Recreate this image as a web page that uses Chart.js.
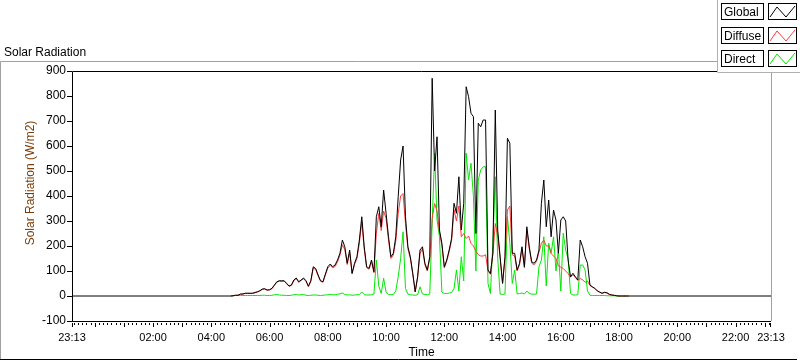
<!DOCTYPE html>
<html>
<head>
<meta charset="utf-8">
<style>
  html, body { margin: 0; padding: 0; background: #fff; }
</style>
</head>
<body>
<canvas id="myChart" width="800" height="361"></canvas>
<script src="https://cdn.jsdelivr.net/npm/chart.js@4.4.1/dist/chart.umd.min.js"></script>
<script>
// axis runs one full day starting at 23:13, samples every 5 minutes
var axisStart = '23:13';
var sampleStart = '04:40';
var sampleStepMin = 5;
var tickLabels = ['23:13', '02:00', '04:00', '06:00', '08:00', '10:00', '12:00',
                  '14:00', '16:00', '18:00', '20:00', '22:00', '23:13'];
var seriesNames = ['Global', 'Diffuse', 'Direct'];
var chartTitle = 'Solar Radiation';
var yTitle = 'Solar Radiation (W/m2)';
var xTitle = 'Time';

// W/m2
var globalRad = [
    0, 1, 3, 3, 8, 8, 11, 11, 11, 11,
    14, 17, 21, 28, 29, 24, 25, 31, 44, 57,
    61, 61, 61, 51, 40, 44, 64, 72, 57, 64,
    72, 61, 39, 61, 117, 110, 84, 61, 57, 88,
    117, 128, 117, 124, 144, 171, 224, 197, 131, 184,
    91, 131, 157, 224, 317, 197, 117, 111, 144, 97,
    317, 357, 277, 424, 331, 237, 157, 171, 237, 397,
    544, 600, 317, 197, 157, 91, 17, 77, 184, 197,
    131, 104, 157, 871, 500, 637, 264, 211, 117, 144,
    184, 231, 371, 331, 477, 264, 371, 837, 797, 731,
    717, 250, 691, 677, 704, 704, 104, 90, 171, 744,
    264, 157, 51, 157, 631, 611, 171, 171, 104, 131,
    197, 117, 277, 197, 137, 131, 144, 184, 371, 464,
    277, 384, 237, 344, 304, 171, 304, 317, 300, 144,
    77, 91, 77, 64, 224, 197, 157, 131, 44, 37,
    31, 21, 16, 11, 15, 13, 7, 4, 3, 1,
    0, 0, 0, 0, 0
];
var diffuseRad = [
    0, 1, 3, 3, 7, 8, 10, 11, 10, 11,
    13, 16, 20, 26, 28, 23, 25, 29, 42, 55,
    60, 58, 60, 49, 39, 42, 61, 70, 55, 62,
    69, 59, 38, 58, 112, 106, 81, 59, 55, 84,
    112, 122, 113, 118, 137, 163, 205, 186, 126, 174,
    88, 125, 150, 212, 298, 187, 113, 107, 138, 93,
    250, 330, 262, 340, 310, 225, 150, 164, 220, 330,
    400, 410, 290, 189, 150, 88, 16, 73, 170, 189,
    125, 100, 150, 310, 370, 340, 255, 203, 112, 139,
    177, 222, 345, 300, 360, 237, 250, 230, 240, 210,
    200, 180, 165, 160, 160, 165, 100, 87, 165, 290,
    240, 150, 49, 150, 344, 360, 165, 160, 100, 125,
    189, 112, 265, 189, 131, 125, 138, 175, 211, 224,
    200, 200, 170, 160, 150, 120, 115, 110, 100, 90,
    75, 85, 74, 62, 70, 65, 55, 60, 42, 35,
    30, 20, 15, 10, 14, 12, 6, 4, 2, 1,
    0, 0, 0, 0, 0
];
var directRad = [
    0, 1, 2, 2, 2, 2, 2, 2, 2, 2,
    2, 2, 2, 3, 3, 2, 2, 3, 5, 6,
    4, 3, 3, 2, 2, 3, 5, 6, 4, 5,
    6, 3, 2, 3, 4, 4, 3, 2, 3, 4,
    5, 6, 5, 5, 7, 9, 12, 6, 4, 5,
    3, 4, 5, 6, 16, 6, 4, 4, 5, 8,
    144, 40, 10, 71, 15, 6, 5, 6, 20, 77,
    150, 257, 30, 8, 5, 4, 3, 5, 37, 8,
    6, 5, 8, 291, 571, 304, 237, 15, 10, 10,
    12, 14, 30, 104, 20, 157, 60, 571, 464, 531,
    397, 100, 464, 504, 517, 517, 50, 10, 211, 477,
    150, 8, 6, 8, 317, 211, 50, 104, 8, 10,
    12, 8, 20, 10, 8, 7, 8, 117, 144, 237,
    40, 211, 171, 237, 100, 184, 20, 251, 184, 150,
    10, 4, 4, 5, 124, 124, 104, 20, 3, 2,
    2, 2, 2, 2, 2, 1, 1, 1, 1, 0,
    0, 0, 0, 0, 0
];
var nightLevel = 0;

function clockMin(s) {
    var p = s.split(':');
    return parseInt(p[0], 10) * 60 + parseInt(p[1], 10);
}
var DAY = 1440;
var startMin = clockMin(axisStart);
function toAxis(s) {
    return (clockMin(s) - startMin + DAY) % DAY;
}

var t0 = toAxis(sampleStart);
function points(values) {
    return values.map(function (v, i) { return { x: t0 + i * sampleStepMin, y: v }; });
}
var globalPts = [{ x: 0, y: nightLevel }].concat(points(globalRad), [{ x: DAY, y: nightLevel }]);

var tickValues = tickLabels.map(function (s, i) {
    if (i === 0) return 0;
    if (i === tickLabels.length - 1) return DAY;
    return toAxis(s);
});

Chart.defaults.font.family = '"Liberation Sans", Arial, sans-serif';
Chart.defaults.font.size = 12;
Chart.defaults.color = '#000';

var legendColors = ['#000000', '#ff3a3a', '#00e800'];

var framePlugin = {
    id: 'frame',
    afterDraw: function (chart) {
        var ctx = chart.ctx, a = chart.chartArea;
        var xs = chart.scales.x, ys = chart.scales.y;
        ctx.save();
        ctx.lineWidth = 1;

        // outer frame
        ctx.strokeStyle = '#a0a0a0';
        ctx.beginPath();
        ctx.moveTo(0.5, 359); ctx.lineTo(0.5, 61.5); ctx.lineTo(717, 61.5);
        ctx.stroke();
        ctx.strokeStyle = '#000';
        ctx.beginPath();
        ctx.moveTo(0, 359.5); ctx.lineTo(797, 359.5);
        ctx.stroke();

        // plot border
        ctx.beginPath();
        ctx.moveTo(a.left + 0.5, a.bottom + 1); ctx.lineTo(a.left + 0.5, a.top + 0.5); ctx.lineTo(a.right, a.top + 0.5);
        ctx.moveTo(a.left, a.bottom + 0.5); ctx.lineTo(a.right, a.bottom + 0.5);
        ctx.stroke();
        ctx.strokeStyle = '#a0a0a0';
        ctx.beginPath();
        ctx.moveTo(a.right + 0.5, a.top); ctx.lineTo(a.right + 0.5, a.bottom);
        ctx.stroke();

        // y ticks
        ctx.fillStyle = '#000';
        for (var v = ys.min; v <= ys.max; v += 100) {
            var py = Math.round(ys.getPixelForValue(v));
            ctx.fillRect(a.left - 5, py, 5, 1);
        }
        // x ticks: hours major, 7 minor per hour
        for (var h = 0; h < 24; h++) {
            for (var j = 0; j < 7; j++) {
                var m = ((h * 60 + j * 60 / 7) - startMin + DAY) % DAY;
                var px = Math.round(xs.getPixelForValue(m));
                ctx.fillRect(px, a.bottom + 2, 1, j === 0 ? 4 : 2);
            }
        }
        ctx.fillRect(Math.round(xs.getPixelForValue(0)), a.bottom + 2, 1, 4);
        ctx.fillRect(Math.round(xs.getPixelForValue(DAY)) - 1, a.bottom + 2, 1, 4);

        // titles
        ctx.font = '12px "Liberation Sans", Arial, sans-serif';
        ctx.textAlign = 'left';
        ctx.textBaseline = 'alphabetic';
        ctx.fillText(chartTitle, 4, 56);

        ctx.save();
        ctx.translate(31, 183);
        ctx.rotate(-Math.PI / 2);
        ctx.textAlign = 'center';
        ctx.textBaseline = 'middle';
        ctx.fillStyle = '#7a3c06';
        ctx.fillText(yTitle, 0, 0);
        ctx.restore();

        // legend panel
        ctx.fillStyle = '#fff';
        ctx.fillRect(717, 0, 83, 72);
        ctx.strokeStyle = '#b0b0b0';
        ctx.beginPath();
        ctx.moveTo(717.5, 0); ctx.lineTo(717.5, 72.5); ctx.lineTo(800, 72.5);
        ctx.stroke();
        for (var i = 0; i < seriesNames.length; i++) {
            var top = Math.round(3 + i * 23.5);
            ctx.strokeStyle = '#000';
            ctx.strokeRect(721.5, top + 0.5, 42, 16);
            ctx.strokeRect(768.5, top + 0.5, 28, 16);
            ctx.fillStyle = '#000';
            ctx.fillText(seriesNames[i], 724, top + 13);
            ctx.strokeStyle = legendColors[i];
            ctx.beginPath();
            ctx.moveTo(770, top + 14); ctx.lineTo(777, top + 4);
            ctx.lineTo(786, top + 14); ctx.lineTo(795, top + 3);
            ctx.stroke();
        }
        ctx.restore();
    }
};

var ctx = document.getElementById('myChart').getContext('2d');
window.myChart = new Chart(ctx, {
    type: 'line',
    data: {
        datasets: [{
            label: seriesNames[0],
            data: globalPts,
            borderColor: legendColors[0],
            borderWidth: 1,
            pointRadius: 0,
            tension: 0
        }, {
            label: seriesNames[1],
            data: points(diffuseRad),
            borderColor: legendColors[1],
            borderWidth: 1,
            pointRadius: 0,
            tension: 0
        }, {
            label: seriesNames[2],
            data: points(directRad),
            borderColor: legendColors[2],
            borderWidth: 1,
            pointRadius: 0,
            tension: 0
        }]
    },
    options: {
        responsive: false,
        animation: false,
        devicePixelRatio: 1,
        layout: { padding: { left: 0, top: 71, right: 29, bottom: 0 } },
        plugins: {
            legend: { display: false },
            tooltip: { enabled: false }
        },
        scales: {
            x: {
                type: 'linear',
                min: 0,
                max: DAY,
                afterBuildTicks: function (s) {
                    s.ticks = tickValues.map(function (v) { return { value: v }; });
                },
                ticks: {
                    autoSkip: false,
                    maxRotation: 0,
                    padding: 10,
                    font: { size: 11 },
                    callback: function (v, i) { return tickLabels[i]; }
                },
                grid: { display: false, drawTicks: false },
                border: { display: false },
                title: { display: true, text: xTitle, padding: { top: 0, bottom: 1 } },
                afterFit: function (s) { s.height = 40; s.paddingLeft = 0; s.paddingRight = 0; }
            },
            y: {
                min: -100,
                max: 900,
                ticks: { stepSize: 100, padding: 6 },
                grid: { display: false, drawTicks: false },
                border: { display: false },
                afterFit: function (s) { s.width = 72; s.paddingTop = 0; s.paddingBottom = 0; }
            }
        }
    },
    plugins: [framePlugin]
});
</script>
</body>
</html>
